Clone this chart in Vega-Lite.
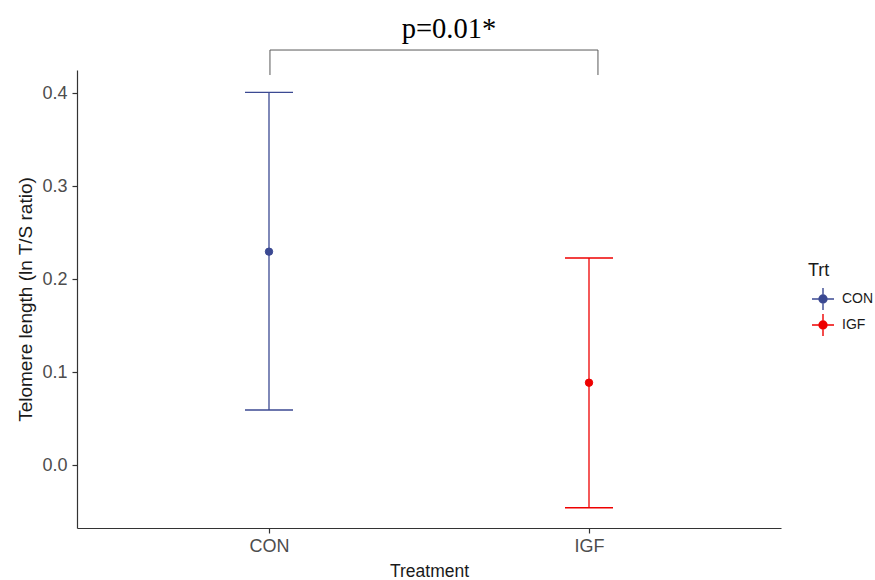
{
  "$schema": "https://vega.github.io/schema/vega-lite/v6.json",
  "width": 704,
  "height": 458,
  "autosize": {"type": "none"},
  "padding": {"left": 77, "top": 70, "right": 94, "bottom": 52},
  "background": "white",
  "config": {
    "view": {"stroke": null},
    "font": "Liberation Sans",
    "axis": {
      "grid": false,
      "domainColor": "#333333",
      "domainWidth": 1.2,
      "tickColor": "#333333",
      "tickWidth": 1.2,
      "tickSize": 5,
      "labelColor": "#4D4D4D",
      "labelFont": "Liberation Sans",
      "labelFontSize": 18,
      "titleFont": "Liberation Sans",
      "titleFontSize": 17.5,
      "titleFontWeight": "normal",
      "titleColor": "#1a1a1a"
    },
    "legend": {
      "orient": "none",
      "legendX": 731,
      "legendY": 192,
      "titleFont": "Liberation Sans",
      "titleFontSize": 18,
      "titleFontWeight": "normal",
      "titleColor": "#1a1a1a",
      "titlePadding": 7,
      "labelFont": "Liberation Sans",
      "labelFontSize": 14,
      "labelColor": "#1a1a1a",
      "labelOffset": 7,
      "symbolType": "M-1,0L1,0M0,-1L0,1M0.36,0A0.36,0.36,0,1,1,-0.36,0A0.36,0.36,0,1,1,0.36,0Z",
      "symbolSize": 484,
      "symbolStrokeWidth": 1.4,
      "symbolOpacity": 1,
      "symbolOffset": 3,
      "rowPadding": -3
    }
  },
  "datasets": {
    "stats": [
      {"Trt": "CON", "mean": 0.2296, "lo": 0.0592, "hi": 0.401},
      {"Trt": "IGF", "mean": 0.0886, "lo": -0.046, "hi": 0.2228}
    ],
    "bracket": [
      {"bx": 1.003, "bx2": 2.028, "by": 0.4466, "by2": 0.4466},
      {"bx": 1.003, "bx2": 1.003, "by": 0.4197, "by2": 0.4466},
      {"bx": 2.028, "bx2": 2.028, "by": 0.4197, "by2": 0.4466}
    ],
    "label": [
      {"tx": 1.5625, "ty": 0.4595, "text": "p=0.01*"}
    ]
  },
  "resolve": {"scale": {"x": "independent"}},
  "layer": [
    {
      "data": {"name": "stats"},
      "encoding": {
        "x": {
          "field": "Trt",
          "type": "nominal",
          "title": "Treatment",
          "scale": {"type": "point", "padding": 0.6, "domain": ["CON", "IGF"]},
          "axis": {"labelAngle": 0, "labelPadding": 4, "titlePadding": 7}
        }
      },
      "layer": [
        {
          "mark": {"type": "rule", "strokeWidth": 1.3, "opacity": 1},
          "encoding": {
            "y": {
              "field": "lo",
              "type": "quantitative",
              "title": "Telomere length (ln T/S ratio)",
              "scale": {"domain": [-0.0678, 0.4251], "nice": false, "zero": false},
              "axis": {"values": [0, 0.1, 0.2, 0.3, 0.4], "format": ".1f", "labelPadding": 5, "titlePadding": 6, "titleFontSize": 19}
            },
            "y2": {"field": "hi"},
            "color": {
              "field": "Trt",
              "type": "nominal",
              "title": "Trt",
              "scale": {"domain": ["CON", "IGF"], "range": ["#3B4992", "#EE0000"]}
            }
          }
        },
        {
          "mark": {"type": "tick", "size": 48, "thickness": 1.3, "orient": "horizontal", "opacity": 1},
          "encoding": {
            "y": {"field": "lo", "type": "quantitative"},
            "color": {"field": "Trt", "type": "nominal", "title": "Trt"}
          }
        },
        {
          "mark": {"type": "tick", "size": 48, "thickness": 1.3, "orient": "horizontal", "opacity": 1},
          "encoding": {
            "y": {"field": "hi", "type": "quantitative"},
            "color": {"field": "Trt", "type": "nominal", "title": "Trt"}
          }
        },
        {
          "mark": {"type": "point", "filled": true, "size": 55, "opacity": 1, "strokeWidth": 1},
          "encoding": {
            "y": {"field": "mean", "type": "quantitative"},
            "color": {"field": "Trt", "type": "nominal", "title": "Trt"},
            "stroke": {
              "field": "Trt",
              "type": "nominal",
              "title": "Trt",
              "scale": {"domain": ["CON", "IGF"], "range": ["#3B4992", "#EE0000"]}
            }
          }
        }
      ]
    },
    {
      "layer": [
        {
          "data": {"name": "bracket"},
          "mark": {"type": "rule", "color": "#595959", "strokeWidth": 1},
          "encoding": {
            "x": {"field": "bx", "type": "quantitative", "scale": {"domain": [0.4, 2.6], "nice": false, "zero": false}, "axis": null},
            "x2": {"field": "bx2"},
            "y": {"field": "by", "type": "quantitative"},
            "y2": {"field": "by2"}
          }
        },
        {
          "data": {"name": "label"},
          "mark": {"type": "text", "font": "Liberation Serif", "fontSize": 28.5, "color": "#000000", "baseline": "alphabetic", "align": "center"},
          "encoding": {
            "x": {"field": "tx", "type": "quantitative", "axis": null},
            "y": {"field": "ty", "type": "quantitative"},
            "text": {"field": "text"}
          }
        }
      ]
    }
  ]
}
